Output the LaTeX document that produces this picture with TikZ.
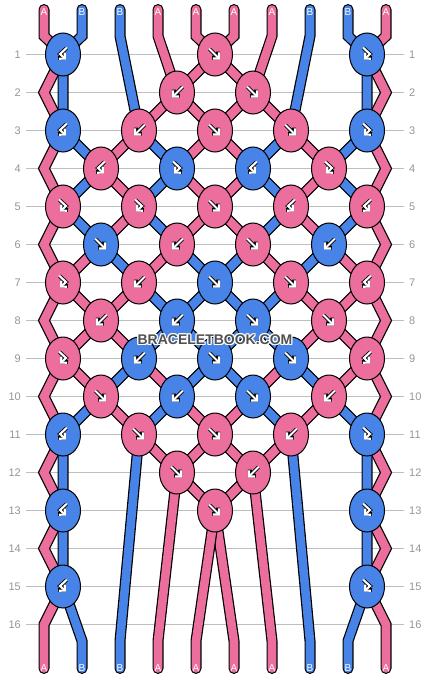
\documentclass[tikz,border=0pt]{standalone}
\usepackage{fontspec}
\setmainfont{Liberation Sans}
\usetikzlibrary{arrows.meta}
\usetikzlibrary{shapes.geometric}
\usetikzlibrary{calc}

\definecolor{strpink}{RGB}{236,110,156}
\definecolor{strblue}{RGB}{72,132,232}
\definecolor{rowgray}{RGB}{190,190,190}
\definecolor{lblgray}{RGB}{150,150,150}
\definecolor{wmgray}{RGB}{80,80,80}

\tikzset{
    pinkstr/.style={draw=strpink, line width=8.6, line cap=round, line join=miter,
        preaction={draw=black, line width=11, line cap=round, line join=miter}},
    bluestr/.style={pinkstr, draw=strblue},
    knot/.style={ellipse, draw=black, line width=1, inner sep=0,
        minimum width=35, minimum height=43},
    arrline/.style={draw=white, line width=2.1, line cap=round, line join=miter,
        -{Straight Barb[length=4.2pt, width=8.5pt]},
        preaction={draw=black, line width=3.8}},
    rowline/.style={draw=rowgray, line width=1},
    rowlbl/.style={text=lblgray, font=\fontsize{11}{13}\selectfont, inner sep=0},
    endlbl/.style={text=white, font=\fontsize{10}{12}\selectfont, inner sep=0},
    wmark/.style={font=\fontsize{14}{16}\selectfont\bfseries, inner sep=0},
    arrf/.pic={\draw[arrline] (-5.5,-5.5) -- (5,5);},
    arrb/.pic={\draw[arrline] (5.5,-5.5) -- (-5,5);},
    arrfb/.pic={\draw[arrline] (-3.5,-6.5) -- (3,-0.5) -- (-3,5);},
    arrbf/.pic={\draw[arrline] (3.5,-6.5) -- (-3,-0.5) -- (3,5);}
}

\begin{document}
\begin{tikzpicture}[x=1pt, y=-1pt]
    \fill[white] (0,0) rectangle (430,680);
    \useasboundingbox (0,0) rectangle (430,680);

    \foreach \r in {1,...,16} {
        \foreach \j in {0,...,8}
            \coordinate (k\r-\j) at ({63+38*\j},{54.5+38*(\r-1)});
        \coordinate (eL\r) at (44,{54.5+38*(\r-1)});
        \coordinate (eR\r) at (386,{54.5+38*(\r-1)});
        \draw[rowline] (26,{54.5+38*(\r-1)}) -- (404,{54.5+38*(\r-1)});
        \node[rowlbl, anchor=east] (lrow\r) at (21,{54.5+38*(\r-1)}) {\r};
        \node[rowlbl, anchor=west] (rrow\r) at (409,{54.5+38*(\r-1)}) {\r};
    }
    \foreach \p in {1,...,10} {
        \coordinate (t\p) at ({44+38*(\p-1)},9.5);
        \coordinate (u\p) at ({44+38*(\p-1)},36);
        \coordinate (v\p) at ({44+38*(\p-1)},641);
        \coordinate (w\p) at ({44+38*(\p-1)},668.5);
    }

    % strings, top to bottom
    \draw[pinkstr] (t1) -- (u1) -- (k1-0) -- (eL2) -- (k3-0) -- (eL4) -- (k5-0) -- (eL6) -- (k7-0) -- (eL8)
        -- (k9-0) -- (eL10) -- (k11-0) -- (eL12) -- (k13-0) -- (eL14) -- (k15-0) -- (eL16) -- (v1) -- (w1);
    \draw[pinkstr] (t10) -- (u10) -- (k1-8) -- (eR2) -- (k3-8) -- (eR4) -- (k5-8) -- (eR6) -- (k7-8) -- (eR8)
        -- (k9-8) -- (eR10) -- (k11-8) -- (eR12) -- (k13-8) -- (eR14) -- (k15-8) -- (eR16) -- (v10) -- (w10);
    \draw[bluestr] (t2) -- (u2) -- (k1-0) -- (k3-0) -- (k4-1) -- (k5-0) -- (k6-1) -- (k7-2) -- (k8-3)
        -- (k9-4) -- (k10-5) -- (k11-6) -- (v8) -- (w8);
    \draw[bluestr] (t3) -- (u3) -- (k3-2) -- (k4-3) -- (k5-2) -- (k6-3) -- (k7-4) -- (k8-5) -- (k9-6)
        -- (k10-7) -- (k11-8) -- (k13-8) -- (k15-8) -- (v9) -- (w9);
    \draw[pinkstr] (t4) -- (u4) -- (k2-3) -- (k3-4) -- (k4-5) -- (k5-4) -- (k6-3) -- (k7-2) -- (k8-1)
        -- (k9-0) -- (k10-1) -- (k11-2) -- (k12-3) -- (k13-4) -- (v6) -- (w6);
    \draw[pinkstr] (t5) -- (u5) -- (k1-4) -- (k2-5) -- (k3-6) -- (k4-7) -- (k5-6) -- (k6-7) -- (k7-8)
        -- (k8-7) -- (k9-6) -- (k10-5) -- (k11-4) -- (k12-3) -- (v4) -- (w4);
    \draw[pinkstr] (t6) -- (u6) -- (k1-4) -- (k2-3) -- (k3-2) -- (k4-1) -- (k5-2) -- (k6-1) -- (k7-0)
        -- (k8-1) -- (k9-2) -- (k10-3) -- (k11-4) -- (k12-5) -- (v7) -- (w7);
    \draw[pinkstr] (t7) -- (u7) -- (k2-5) -- (k3-4) -- (k4-3) -- (k5-4) -- (k6-5) -- (k7-6) -- (k8-7)
        -- (k9-8) -- (k10-7) -- (k11-6) -- (k12-5) -- (k13-4) -- (v5) -- (w5);
    \draw[bluestr] (t8) -- (u8) -- (k3-6) -- (k4-5) -- (k5-6) -- (k6-5) -- (k7-4) -- (k8-3) -- (k9-2)
        -- (k10-1) -- (k11-0) -- (k13-0) -- (k15-0) -- (v2) -- (w2);
    \draw[bluestr] (t9) -- (u9) -- (k1-8) -- (k3-8) -- (k4-7) -- (k5-8) -- (k6-7) -- (k7-6) -- (k8-5)
        -- (k9-4) -- (k10-3) -- (k11-2) -- (v3) -- (w3);

    % knots: row/column/colour/type
    \foreach \r/\j/\c/\t in {1/0/blue/bf, 1/4/pink/f, 1/8/blue/fb,
        2/3/pink/b, 2/5/pink/f,
        3/0/blue/bf, 3/2/pink/b, 3/4/pink/f, 3/6/pink/f, 3/8/blue/fb,
        4/1/pink/bf, 4/3/blue/fb, 4/5/blue/bf, 4/7/pink/fb,
        5/0/pink/fb, 5/2/pink/fb, 5/4/pink/f, 5/6/pink/bf, 5/8/pink/bf,
        6/1/blue/f, 6/3/pink/b, 6/5/pink/f, 6/7/blue/b,
        7/0/pink/fb, 7/2/pink/b, 7/4/blue/f, 7/6/pink/f, 7/8/pink/bf,
        8/1/pink/b, 8/3/blue/b, 8/5/blue/f, 8/7/pink/f,
        9/0/pink/fb, 9/2/blue/b, 9/4/blue/f, 9/6/blue/f, 9/8/pink/bf,
        10/1/pink/f, 10/3/blue/b, 10/5/blue/f, 10/7/pink/b,
        11/0/blue/bf, 11/2/pink/f, 11/4/pink/f, 11/6/pink/b, 11/8/blue/fb,
        12/3/pink/f, 12/5/pink/b,
        13/0/blue/bf, 13/4/pink/f, 13/8/blue/fb,
        15/0/blue/bf, 15/8/blue/fb} {
        \node[knot, fill=str\c] (n\r-\j) at (k\r-\j) {};
        \pic at (n\r-\j) {arr\t};
    }

    \foreach \p/\top/\bot in {1/A/A, 2/B/B, 3/B/B, 4/A/A, 5/A/A, 6/A/A, 7/A/A, 8/B/B, 9/B/B, 10/A/A} {
        \node[endlbl] (top\p) at ({44+38*(\p-1)},12.5) {\top};
        \node[endlbl] (bot\p) at ({44+38*(\p-1)},668) {\bot};
    }

    \foreach \dx/\dy/\h in {-1/-1/a, 0/-1/b, 1/-1/c, -1/0/d, 1/0/e, -1/1/f, 0/1/g, 1/1/h}
        \node[wmark, text=white] (halo\h) at ($(215,340)+(\dx,\dy)$) {BRACELETBOOK.COM};
    \node[wmark, text=wmgray] (wm) at (215,340) {BRACELETBOOK.COM};
\end{tikzpicture}
\end{document}
